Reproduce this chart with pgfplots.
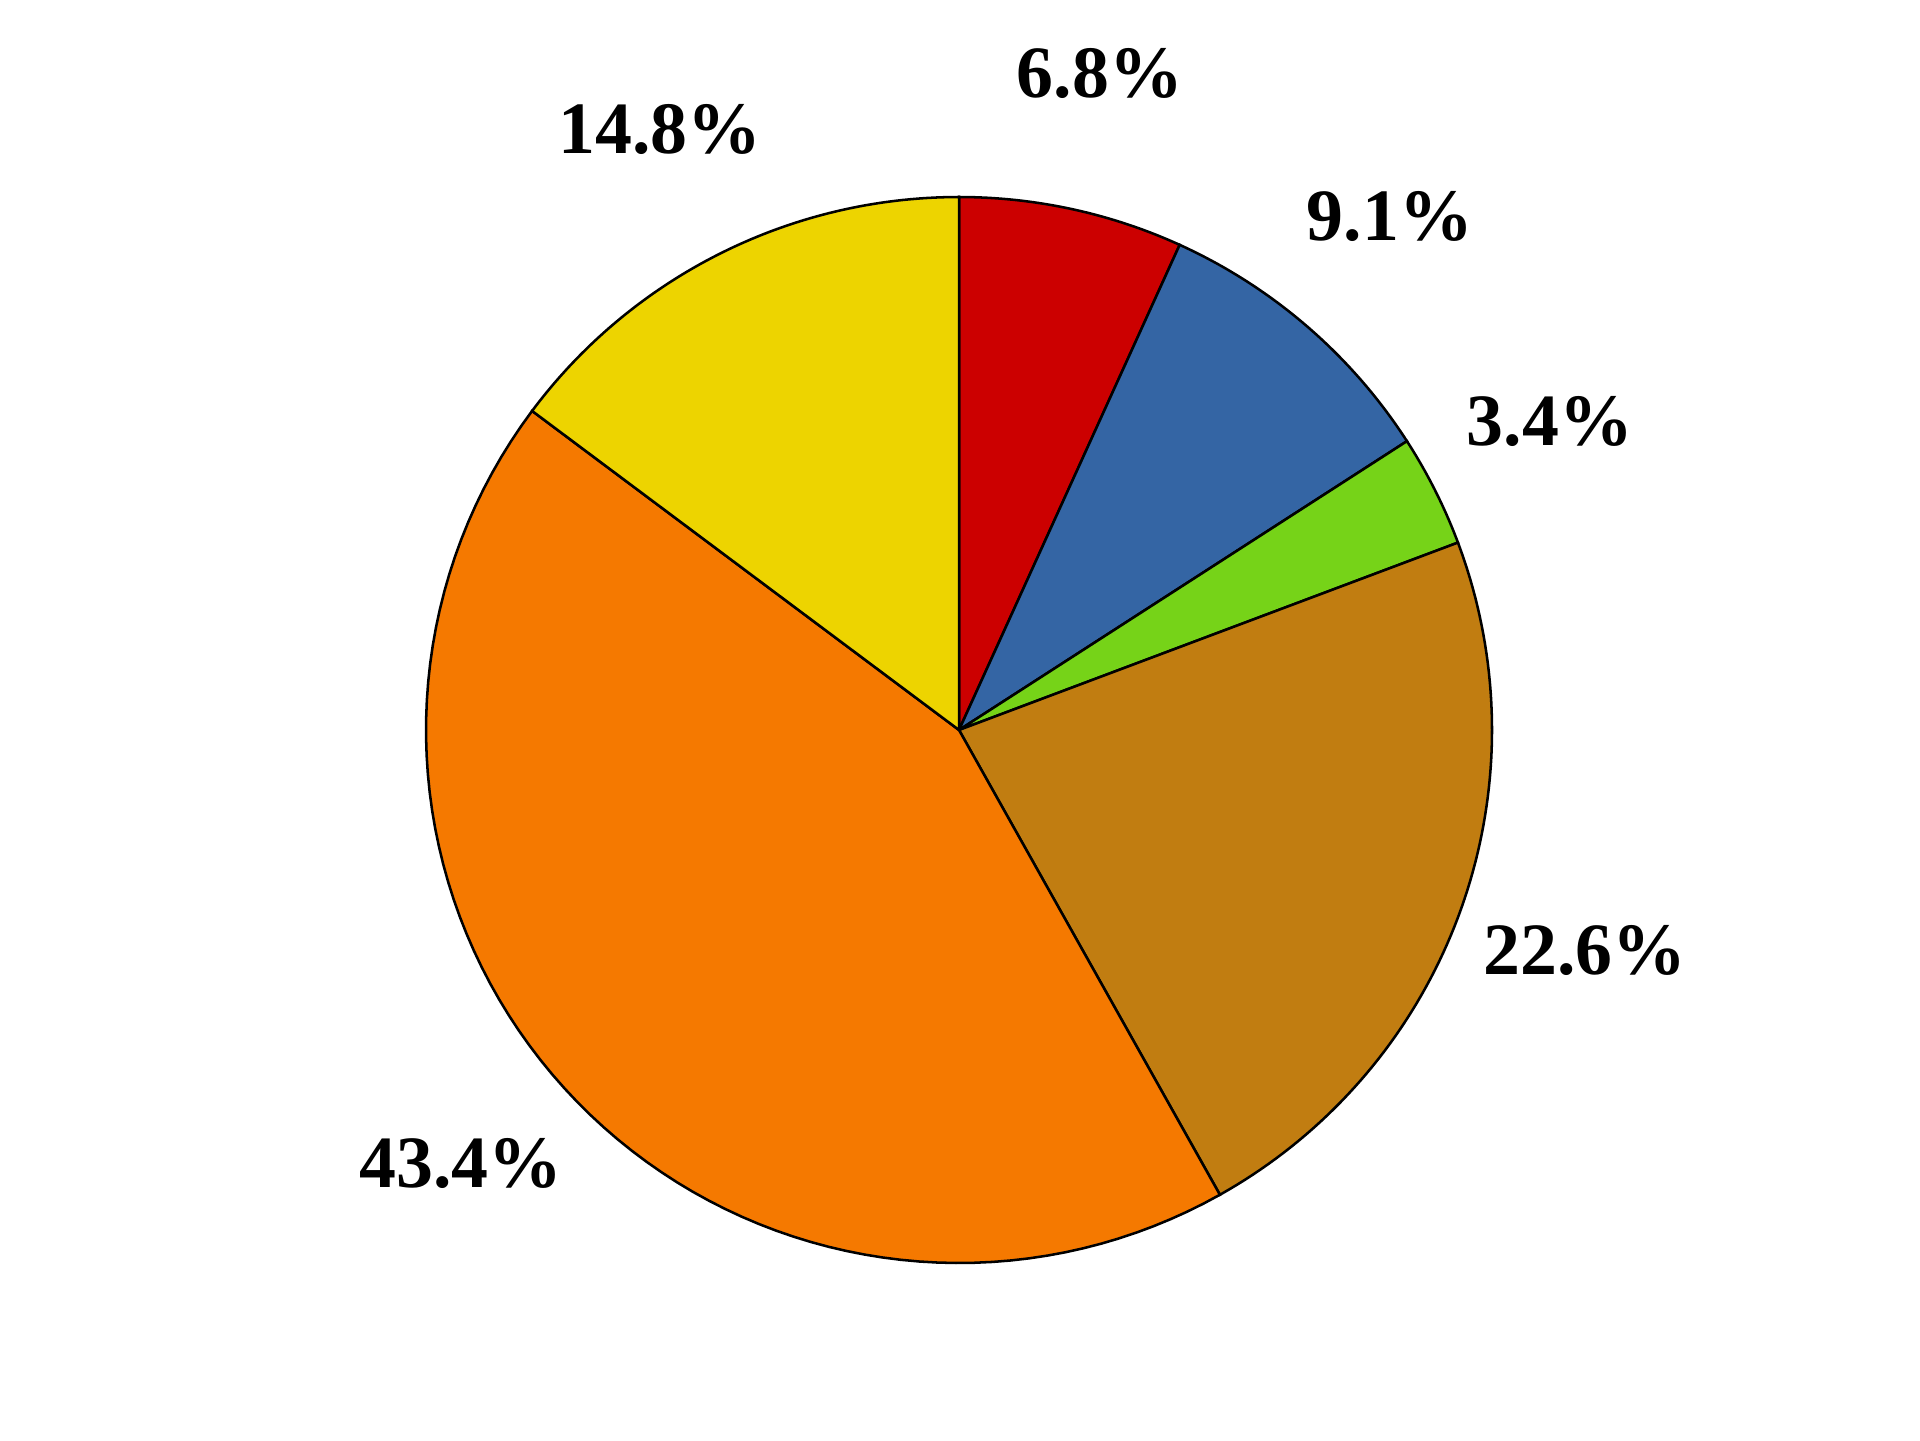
\documentclass[border=0pt]{standalone}
\usepackage{pgfplots}
\pgfplotsset{compat=1.18}
\usepackage{fontspec}
\setmainfont{Liberation Serif}[BoldFont={Liberation Serif Bold}]
\definecolor{cRed}{HTML}{CC0000}
\definecolor{cBlue}{HTML}{3465A4}
\definecolor{cGreen}{HTML}{76D318}
\definecolor{cBrown}{HTML}{C17D11}
\definecolor{cOrange}{HTML}{F57900}
\definecolor{cYellow}{HTML}{EDD400}
% pie centre and radius (pixel units of a 1920x1440 canvas)
\def\cx{959}
\def\cy{710}
\def\rr{533}
\def\total{100.1}
\gdef\startang{90}
\newcommand{\pieslice}[2]{%
  \pgfmathsetmacro\endang{\startang-360*#1/\total}%
  \edef\doslice{\noexpand\addplot[draw=black, line width=0.6pt, fill=#2,
      domain=\endang:\startang, samples=80, variable=\noexpand\t]
      ({\cx+\rr*cos(\noexpand\t)}, {\cy+\rr*sin(\noexpand\t)}) -- (axis cs:\cx,\cy) -- cycle;}%
  \doslice
  \xdef\startang{\endang}%
}
\begin{document}
\begin{tikzpicture}
\begin{axis}[
  scale only axis, width=16cm, height=12cm,
  xmin=0, xmax=1920, ymin=0, ymax=1440,
  hide axis, clip=false,
]
\addplot[draw=none, forget plot] coordinates {(0,0) (1920,1440)};
\pieslice{6.8}{cRed}
\pieslice{9.1}{cBlue}
\pieslice{3.4}{cGreen}
\pieslice{22.6}{cBrown}
\pieslice{43.4}{cOrange}
\pieslice{14.8}{cYellow}
\begin{scope}[every node/.style={font=\fontsize{17.5}{20}\selectfont\bfseries, inner sep=0pt}]
\node at (axis cs:1100,1367) {6.8\%};
\node at (axis cs:1390,1224) {9.1\%};
\node at (axis cs:1550,1019) {3.4\%};
\node at (axis cs:1585,490) {22.6\%};
\node at (axis cs:461,277) {43.4\%};
\node at (axis cs:660,1311) {14.8\%};
\end{scope}
\end{axis}
\end{tikzpicture}
\end{document}
